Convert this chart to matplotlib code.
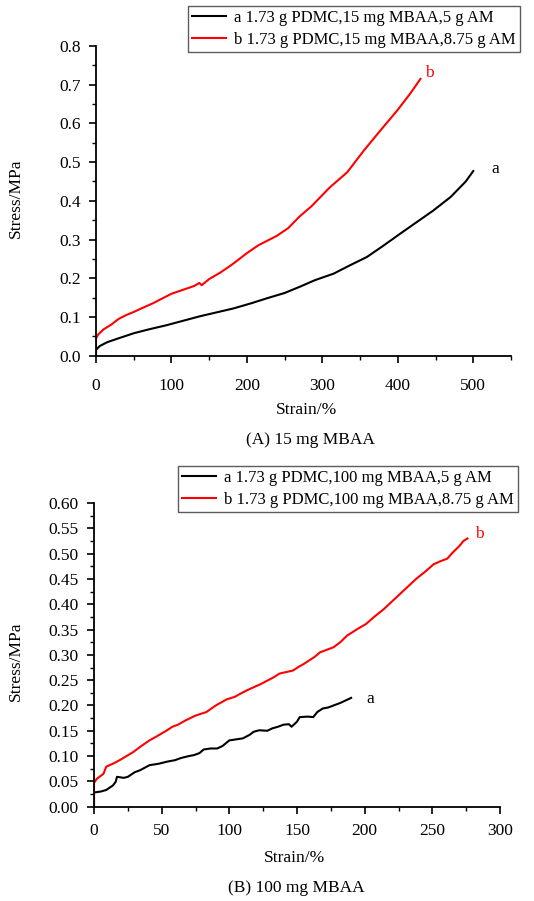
import matplotlib
matplotlib.use("Agg")
import matplotlib.pyplot as plt
from matplotlib.ticker import MultipleLocator, FormatStrFormatter

plt.rcParams["font.family"] = ["Liberation Serif", "DejaVu Serif"]

# --- data ------------------------------------------------------------------
# (A) 15 mg MBAA
a15_x = [0, 0, 5, 15, 30, 50, 70, 94, 115, 138, 160, 182, 205, 226, 250, 270,
         290, 315, 335, 359, 380, 403, 425, 447, 470, 490, 500]
a15_y = [0, 0.015, 0.025, 0.035, 0.045, 0.058, 0.068, 0.079, 0.09, 0.102, 0.112,
         0.122, 0.135, 0.148, 0.162, 0.178, 0.195, 0.212, 0.232, 0.255, 0.283,
         0.315, 0.345, 0.375, 0.41, 0.45, 0.477]
b15_x = [0, 0, 3, 10, 20, 30, 40, 50, 60, 75, 90, 100, 115, 130, 137, 140, 150,
         165, 180, 200, 215, 230, 240, 255, 270, 285, 300, 310, 333, 355, 377,
         399, 416, 430]
b15_y = [0, 0.045, 0.055, 0.068, 0.08, 0.095, 0.105, 0.113, 0.122, 0.135, 0.15,
         0.16, 0.17, 0.18, 0.188, 0.182, 0.198, 0.215, 0.235, 0.265, 0.285, 0.3,
         0.31, 0.33, 0.36, 0.385, 0.415, 0.435, 0.474, 0.53, 0.582, 0.633,
         0.676, 0.715]

# (B) 100 mg MBAA
a100_x = [0, 0, 5, 9, 14, 16, 17, 22, 25, 30, 34, 41, 48, 54, 60, 64, 70, 74, 78,
          81, 86, 91, 95, 100, 105, 110, 115, 118, 122, 128, 132, 136, 140, 144,
          146, 150, 152, 158, 162, 165, 169, 173, 177, 182, 186, 190]
a100_y = [0, 0.028, 0.03, 0.033, 0.042, 0.049, 0.059, 0.057, 0.059, 0.068,
          0.072, 0.082, 0.085, 0.089, 0.092, 0.096, 0.1, 0.102, 0.106, 0.113,
          0.115, 0.115, 0.12, 0.131, 0.133, 0.135, 0.142, 0.148, 0.151, 0.15,
          0.155, 0.158, 0.162, 0.163, 0.158, 0.168, 0.177, 0.178, 0.177, 0.187,
          0.194, 0.196, 0.2, 0.205, 0.21, 0.215]
b100_x = [0, 0, 2, 4, 7, 9, 14, 19, 24, 29, 35, 41, 47, 54, 58, 62, 68, 75, 83,
          90, 98, 104, 108, 113, 118, 123, 128, 133, 137, 142, 147, 151, 155,
          159, 163, 167, 172, 177, 182, 187, 194, 201, 207, 214, 220, 226, 232,
          238, 245, 251, 256, 261, 265, 270, 273, 276]
b100_y = [0, 0.047, 0.055, 0.059, 0.065, 0.079, 0.085, 0.092, 0.1, 0.108, 0.12,
          0.131, 0.14, 0.151, 0.158, 0.162, 0.171, 0.18, 0.187, 0.2, 0.212,
          0.217, 0.223, 0.23, 0.236, 0.242, 0.249, 0.256, 0.263, 0.266, 0.269,
          0.276, 0.282, 0.289, 0.296, 0.305, 0.31, 0.315, 0.325, 0.338, 0.35,
          0.361, 0.375, 0.39, 0.405, 0.42, 0.435, 0.45, 0.465, 0.479, 0.485,
          0.49, 0.502, 0.515, 0.525, 0.53]

labels15 = ["a 1.73 g PDMC,15 mg MBAA,5 g AM",
            "b 1.73 g PDMC,15 mg MBAA,8.75 g AM"]
labels100 = ["a 1.73 g PDMC,100 mg MBAA,5 g AM",
             "b 1.73 g PDMC,100 mg MBAA,8.75 g AM"]

FS = 12.5      # ticks, axis labels, captions
FS_LEG = 12
C_RED = "#ff0000"
C_BLK = "#000000"

fig = plt.figure(figsize=(5.34, 9.01), dpi=100)
fig.patch.set_facecolor("white")

ax1 = fig.add_axes([96 / 534, 1 - 355.7 / 901, 415 / 534, 309.7 / 901])
ax2 = fig.add_axes([94 / 534, 1 - 806.7 / 901, 406 / 534, 303.7 / 901])


def style_axis(ax, xmax, ymax, xmaj, xmin, ymaj, ymin, yfmt, xpad):
    ax.set_xlim(0, xmax)
    ax.set_ylim(0, ymax)
    ax.spines[["top", "right"]].set_visible(False)
    for s in ("left", "bottom"):
        ax.spines[s].set_linewidth(1.3)
    ax.xaxis.set_major_locator(MultipleLocator(xmaj))
    ax.xaxis.set_minor_locator(MultipleLocator(xmin))
    ax.yaxis.set_major_locator(MultipleLocator(ymaj))
    ax.yaxis.set_minor_locator(MultipleLocator(ymin))
    ax.yaxis.set_major_formatter(FormatStrFormatter(yfmt))
    ax.tick_params(which="major", direction="out", length=5, width=1.2,
                   labelsize=FS)
    ax.tick_params(which="minor", direction="out", length=3, width=1.0)
    ax.tick_params(axis="x", which="major", pad=xpad)
    ax.tick_params(axis="y", which="major", pad=6)


def add_legend(handles, labels, x0, y0):
    fig.legend(handles, labels, loc="upper left",
               bbox_to_anchor=(x0 / 534, 1 - y0 / 901), fontsize=FS_LEG,
               frameon=True, fancybox=False, edgecolor="#333333",
               handlelength=2.0, handletextpad=0.5, borderpad=0.25,
               labelspacing=0.35, borderaxespad=0)


# --- panel A ---
la, = ax1.plot(a15_x, a15_y, color=C_BLK, lw=1.5)
lb, = ax1.plot(b15_x, b15_y, color=C_RED, lw=1.5)
style_axis(ax1, 550, 0.8, 100, 50, 0.1, 0.05, "%.1f", 11)
ax1.text(442, 0.729, "b", color=C_RED, fontsize=FS, ha="center", va="center")
ax1.text(529, 0.483, "a", color=C_BLK, fontsize=FS, ha="center", va="center")
ax1.set_xlabel("Strain/%", fontsize=FS, va="center")
ax1.set_ylabel("Stress/MPa", fontsize=FS, va="center")
ax1.xaxis.set_label_coords(0.508, -0.175)
ax1.yaxis.set_label_coords(-0.193, 0.51)
add_legend([la, lb], labels15, 188, 6)
fig.text(310 / 534, 1 - 440 / 901, "(A) 15 mg MBAA", fontsize=FS,
         ha="center", va="center")

# --- panel B ---
la2, = ax2.plot(a100_x, a100_y, color=C_BLK, lw=1.5)
lb2, = ax2.plot(b100_x, b100_y, color=C_RED, lw=1.5)
style_axis(ax2, 300, 0.6, 50, 25, 0.05, 0.025, "%.2f", 7)
ax2.text(284.6, 0.539, "b", color=C_RED, fontsize=FS, ha="center", va="center")
ax2.text(204.4, 0.213, "a", color=C_BLK, fontsize=FS, ha="center", va="center")
ax2.set_xlabel("Strain/%", fontsize=FS, va="center")
ax2.set_ylabel("Stress/MPa", fontsize=FS, va="center")
ax2.xaxis.set_label_coords(0.493, -0.169)
ax2.yaxis.set_label_coords(-0.192, 0.48)
add_legend([la2, lb2], labels100, 178, 466)
fig.text(296 / 534, 1 - 888 / 901, "(B) 100 mg MBAA", fontsize=FS,
         ha="center", va="center")

fig.savefig("out.png", dpi=100)
plt.close(fig)
